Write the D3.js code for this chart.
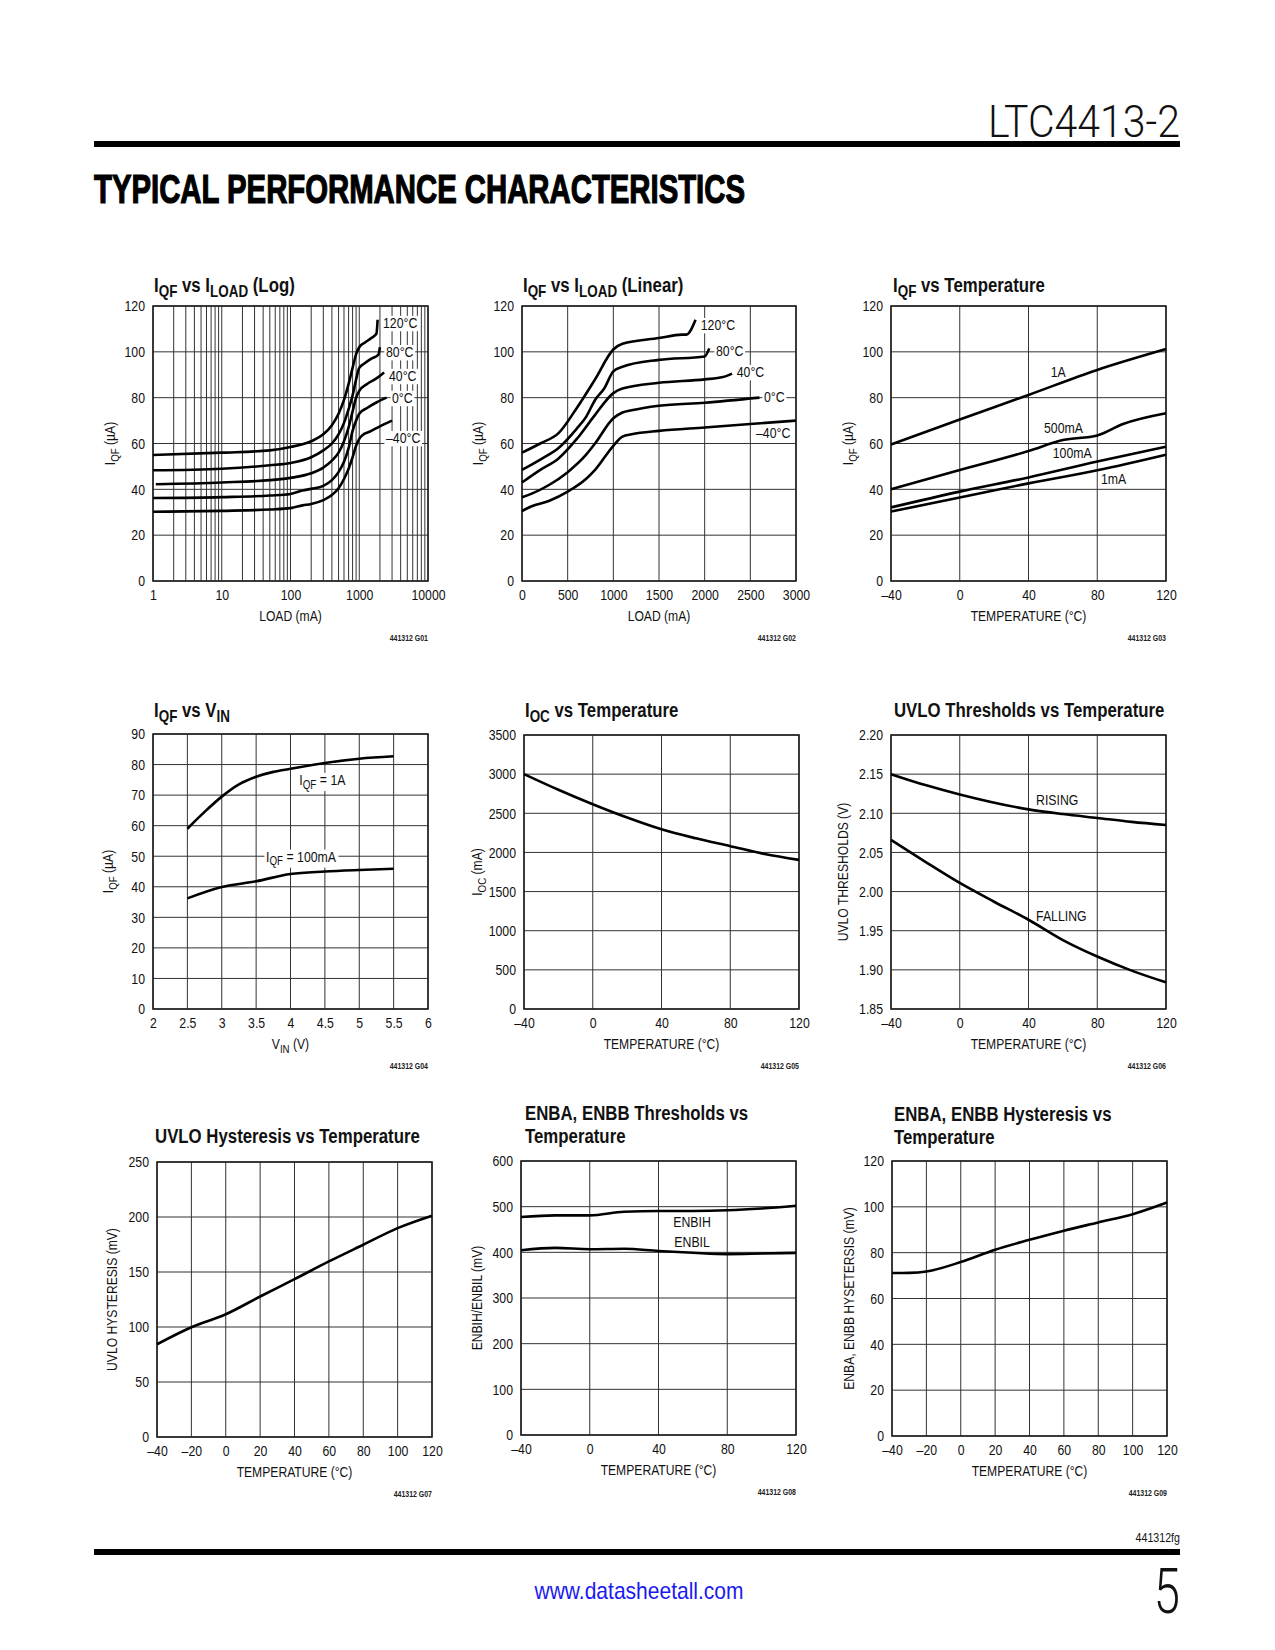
<!DOCTYPE html>
<html><head><meta charset="utf-8">
<script src="https://cdn.jsdelivr.net/npm/d3@7"></script>
<style>body{margin:0;background:#fff}</style>
</head><body>
<svg id="page" width="1275" height="1650" xmlns="http://www.w3.org/2000/svg"></svg>
<script>
// ---------------- DATA ----------------
// G01 IQF vs ILOAD (log) : [load mA, IQF uA]
const g1_120C = [[1,55],[10,56],[50,57],[100,58.5],[200,61],[300,64],[400,68],[500,73],[600,79],[700,86],[800,93],[900,99],[1000,102],[1200,104],[1500,106],[1780,108],[1850,114]];
const g1_80C  = [[1,48.3],[10,49],[50,50.5],[100,51.5],[200,54],[300,57],[400,60],[500,64],[600,69],[700,75],[800,81],[900,88],[1000,93],[1200,95],[1500,97],[1900,98.8],[2000,102]];
const g1_40C  = [[1.1,42.2],[10,43],[50,44],[100,45],[200,47],[300,49.5],[400,52.5],[500,56],[600,61],[700,67],[800,74],[900,80],[1000,83],[1300,86],[1800,88.5],[2300,91]];
const g1_0C   = [[1,36.2],[10,36.6],[50,37.3],[100,38],[150,39.5],[200,40.2],[300,41.5],[400,44],[500,47.5],[600,52],[700,58],[800,65.5],[900,70],[1000,73],[1300,75.5],[1800,78],[2500,80]];
const g1_m40C = [[1,30.2],[10,30.6],[50,31.2],[100,31.8],[150,33],[200,33.6],[300,35.3],[400,37.5],[500,40.5],[600,44.5],[700,49],[800,54],[900,59],[1000,62],[1100,63.5],[1500,65.5],[2000,67.5],[3000,70]];
const g1_xTicks = [1,10,100,1000,10000];
const g1_yTicks = [0,20,40,60,80,100,120];

// G02 IQF vs ILOAD (linear)
const g2_120C = [[0,56],[200,60],[400,64.5],[600,75.5],[800,88],[1000,101],[1100,103.5],[1500,106],[1750,107.5],[1800,107.5],[1900,114]];
const g2_80C  = [[0,48.5],[200,53],[400,58],[600,66.5],[700,71.5],[800,79],[900,84],[1000,91.5],[1100,93.5],[1500,96.5],[2000,98],[2050,101.5]];
const g2_40C  = [[0,43],[200,48.5],[400,53.5],[600,62],[800,72.5],[1000,82],[1100,84],[1500,86.5],[2000,88],[2200,89],[2300,90.5]];
const g2_0C   = [[0,36.5],[100,38],[300,42],[500,47.5],[700,55],[800,60],[1000,71],[1100,73.5],[1200,74.5],[1500,76.5],[2000,77.8],[2600,80]];
const g2_m40C = [[0,30.5],[100,32.5],[300,35],[500,39],[700,44.5],[800,48.5],[1000,59],[1100,63],[1200,64],[1500,65.5],[2000,67],[2500,68.5],[3000,70]];
const g2_xTicks = [0,500,1000,1500,2000,2500,3000];
const g2_yTicks = [0,20,40,60,80,100,120];

// G03 IQF vs Temperature
const g3_1A    = [[-40,59.6],[0,70.5],[40,81.2],[80,92.1],[120,101.2]];
const g3_500mA = [[-40,40],[0,48.4],[40,56.7],[60,61.5],[80,63.5],[95,68.5],[120,73.2]];
const g3_100mA = [[-40,32.1],[0,39],[40,45.2],[80,52.1],[120,58.6]];
const g3_1mA   = [[-40,30.3],[0,36.4],[40,42.6],[80,48.3],[120,55.1]];
const tempTicks40 = [-40,0,40,80,120];
const tempTicks20 = [-40,-20,0,20,40,60,80,100,120];

// G04 IQF vs VIN
const g4_1A    = [[2.5,59],[2.75,64.5],[3,69.5],[3.25,73.5],[3.5,76],[3.75,77.6],[4,78.6],[4.5,80.5],[5,81.9],[5.5,82.7]];
const g4_100mA = [[2.5,36.2],[3,39.9],[3.5,41.8],[4,44.2],[4.5,45],[5,45.5],[5.5,45.9]];
const g4_xTicks = [2,2.5,3,3.5,4,4.5,5,5.5,6];
const g4_yTicks = [0,10,20,30,40,50,60,70,80,90];

// G05 IOC vs Temperature
const g5_ioc = [[-40,3000],[-20,2800],[0,2615],[20,2445],[40,2295],[60,2180],[80,2080],[100,1980],[120,1905]];
const g5_yTicks = [0,500,1000,1500,2000,2500,3000,3500];

// G06 UVLO thresholds
const g6_rising  = [[-40,2.150],[-20,2.136],[0,2.124],[40,2.105],[60,2.099],[80,2.094],[100,2.089],[120,2.085]];
const g6_falling = [[-40,2.066],[-20,2.038],[0,2.011],[20,1.987],[40,1.964],[60,1.938],[80,1.917],[100,1.899],[120,1.884]];
const g6_yTicks = [1.85,1.90,1.95,2.00,2.05,2.10,2.15,2.20];

// G07 UVLO hysteresis
const g7_hyst = [[-40,84.3],[-20,99.8],[0,111.6],[20,127.7],[40,143.5],[60,159.6],[80,174.8],[100,189.9],[120,201.2]];
const g7_yTicks = [0,50,100,150,200,250];

// G08 ENB thresholds
const g8_enbih = [[-40,477.5],[-20,481],[0,481],[20,489],[40,490.6],[60,490.6],[80,492],[100,496],[120,502]];
const g8_enbil = [[-40,404.6],[-20,409.7],[0,406.8],[20,408],[40,403],[60,399],[80,396],[100,397.3],[120,398.8]];
const g8_yTicks = [0,100,200,300,400,500,600];

// G09 ENB hysteresis
const g9_hyst = [[-40,71.1],[-30,71.2],[-20,71.8],[0,75.9],[20,81.3],[40,85.6],[60,89.6],[80,93.2],[100,96.8],[120,101.9]];
const g9_yTicks = [0,20,40,60,80,100,120];

// ---------------- DRAW ----------------
const FONT = '"Liberation Sans",Arial,Helvetica,sans-serif';
const THIN = 'Roboto,"Liberation Sans",Arial,sans-serif';
const K = 0.82; // horizontal condensing (narrow face)
const svg = d3.select('#page').attr('font-family', FONT);
const tfmt = d => d < 0 ? '\u2013' + Math.abs(d) : String(d);

function condense(t, k = K) {
  const x = +t.attr('x') || 0;
  t.attr('x', x / k);
  const tr = t.attr('transform') || '';
  t.attr('transform', (tr + ' scale(' + k + ',1)').trim());
  return t;
}

function rich(sel, parts, size) {
  let sub = false;
  parts.forEach(([s, isSub]) => {
    let dy = 0;
    if (isSub && !sub) dy = size * 0.25;
    else if (!isSub && sub) dy = -size * 0.25;
    sub = !!isSub;
    sel.append('tspan').attr('dy', dy).attr('font-size', isSub ? size * 0.8 : size).text(s);
  });
  return sel;
}

const logGrid = [];
for (let d = 0; d < 4; d++) for (let k = 1; k <= 9; k++) logGrid.push(k * Math.pow(10, d));
logGrid.push(10000);

function drawChart(c) {
  const g = svg.append('g').attr('transform', `translate(${c.left},${c.top})`);
  const x = (c.xlog ? d3.scaleLog() : d3.scaleLinear()).domain(c.xDomain).range([0, c.w]);
  const y = d3.scaleLinear().domain(c.yDomain).range([c.h, 0]);

  g.append('g').selectAll('line').data(c.xGrid).join('line')
    .attr('x1', d => x(d)).attr('x2', d => x(d)).attr('y1', 0).attr('y2', c.h)
    .attr('stroke', '#333').attr('stroke-width', 1);
  g.append('g').selectAll('line').data(c.yTicks).join('line')
    .attr('x1', 0).attr('x2', c.w).attr('y1', d => y(d)).attr('y2', d => y(d))
    .attr('stroke', '#333').attr('stroke-width', 1);

  const ax = g.append('g').attr('transform', `translate(0,${c.h})`)
    .call(d3.axisBottom(x).tickValues(c.xTicks).tickFormat(c.xFmt || tfmt).tickSize(0).tickPadding(8));
  ax.select('.domain').remove();
  ax.attr('font-size', 15).attr('font-family', FONT);
  ax.selectAll('text').attr('fill', '#111').each(function () { condense(d3.select(this)); });
  const ay = g.append('g')
    .call(d3.axisLeft(y).tickValues(c.yTicks).tickFormat(c.yFmt || tfmt).tickSize(0).tickPadding(8));
  ay.select('.domain').remove();
  ay.attr('font-size', 15).attr('font-family', FONT);
  ay.selectAll('text').attr('fill', '#111').each(function () { condense(d3.select(this)); });

  const labNodes = (c.labels || []).map(L => {
    const t = g.append('text').attr('x', x(L.x)).attr('y', y(L.y)).attr('fill', '#111');
    rich(t, L.parts, 15);
    condense(t);
    if (c.labelBg) {
      const b = t.node().getBBox();
      g.append('rect').attr('transform', `scale(${K},1)`)
        .attr('x', b.x - 2).attr('y', b.y + 1).attr('width', b.width + 4).attr('height', b.height - 1)
        .attr('fill', '#fff');
    }
    return t;
  });
  g.append('rect').attr('width', c.w).attr('height', c.h).attr('fill', 'none')
    .attr('stroke', '#222').attr('stroke-width', 1.6);

  const line = d3.line().x(d => x(d[0])).y(d => y(d[1])).curve(d3.curveMonotoneX);
  c.series.forEach(s => {
    g.append('path').datum(s).attr('d', line).attr('fill', 'none')
      .attr('stroke', '#000').attr('stroke-width', 2.6).attr('stroke-linejoin', 'round');
  });
  labNodes.forEach(t => t.raise());

  c.title.forEach((parts, i) => {
    const t = svg.append('text').attr('x', c.titleX).attr('y', c.titleY - (c.title.length - 1 - i) * 22.5)
      .attr('font-weight', 'bold').attr('fill', '#111');
    rich(t, parts, 20.5);
    condense(t);
  });
  condense(rich(g.append('text').attr('x', c.w / 2).attr('y', c.h + 40).attr('text-anchor', 'middle').attr('fill', '#111'), c.xTitle, 14.8));
  condense(rich(g.append('text').attr('transform', `translate(${c.yTitleX},${c.h / 2}) rotate(-90)`)
    .attr('text-anchor', 'middle').attr('fill', '#111'), c.yTitle, 14.8));
  condense(g.append('text').attr('x', c.w).attr('y', c.h + 60).attr('text-anchor', 'end')
    .attr('font-size', 8.5).attr('font-weight', 'bold').attr('fill', '#222').text(c.note));
}

const iqfTitle = [['I', 0], ['QF', 1], [' (\u00b5A)', 0]];
const tempTitle = [['TEMPERATURE (\u00b0C)', 0]];

const charts = [
  { left: 153, top: 306, w: 275, h: 275, xlog: true, xDomain: [1, 10000], yDomain: [0, 120],
    xGrid: logGrid, xTicks: g1_xTicks, yTicks: g1_yTicks, labelBg: true,
    series: [g1_120C, g1_80C, g1_40C, g1_0C, g1_m40C],
    labels: [{x: 2215, y: 110.4, parts: [['120\u00b0C', 0]]}, {x: 2449, y: 97.7, parts: [['80\u00b0C', 0]]},
             {x: 2710, y: 87.3, parts: [['40\u00b0C', 0]]}, {x: 2994, y: 77.7, parts: [['0\u00b0C', 0]]},
             {x: 2449, y: 60.2, parts: [['\u201340\u00b0C', 0]]}],
    title: [[['I', 0], ['QF', 1], [' vs I', 0], ['LOAD', 1], [' (Log)', 0]]], titleX: 154, titleY: 292,
    xTitle: [['LOAD (mA)', 0]], yTitle: iqfTitle, yTitleX: -38, note: '441312 G01' },
  { left: 522, top: 306, w: 274, h: 275, xDomain: [0, 3000], yDomain: [0, 120],
    xGrid: g2_xTicks, xTicks: g2_xTicks, yTicks: g2_yTicks, labelBg: true,
    series: [g2_120C, g2_80C, g2_40C, g2_0C, g2_m40C],
    labels: [{x: 1957, y: 109.5, parts: [['120\u00b0C', 0]]}, {x: 2124, y: 98.3, parts: [['80\u00b0C', 0]]},
             {x: 2351, y: 89, parts: [['40\u00b0C', 0]]}, {x: 2650, y: 78.2, parts: [['0\u00b0C', 0]]},
             {x: 2562, y: 62.4, parts: [['\u201340\u00b0C', 0]]}],
    title: [[['I', 0], ['QF', 1], [' vs I', 0], ['LOAD', 1], [' (Linear)', 0]]], titleX: 523, titleY: 292,
    xTitle: [['LOAD (mA)', 0]], yTitle: iqfTitle, yTitleX: -39, note: '441312 G02' },
  { left: 891, top: 306, w: 275, h: 275, xDomain: [-40, 120], yDomain: [0, 120],
    xGrid: tempTicks40, xTicks: tempTicks40, yTicks: g1_yTicks, labelBg: false,
    series: [g3_1A, g3_500mA, g3_100mA, g3_1mA],
    labels: [{x: 52.9, y: 89.1, parts: [['1A', 0]]}, {x: 49, y: 64.4, parts: [['500mA', 0]]},
             {x: 54.1, y: 53.5, parts: [['100mA', 0]]}, {x: 82.2, y: 42.2, parts: [['1mA', 0]]}],
    title: [[['I', 0], ['QF', 1], [' vs Temperature', 0]]], titleX: 893, titleY: 292,
    xTitle: tempTitle, yTitle: iqfTitle, yTitleX: -38, note: '441312 G03' },
  { left: 153, top: 734, w: 275, h: 275, xDomain: [2, 6], yDomain: [0, 90],
    xGrid: g4_xTicks, xTicks: g4_xTicks, yTicks: g4_yTicks, labelBg: true, xFmt: d => String(d),
    series: [g4_1A, g4_100mA],
    labels: [{x: 4.128, y: 73.3, parts: [['I', 0], ['QF', 1], [' = 1A', 0]]},
             {x: 3.644, y: 48.2, parts: [['I', 0], ['QF', 1], [' = 100mA', 0]]}],
    title: [[['I', 0], ['QF', 1], [' vs V', 0], ['IN', 1]]], titleX: 154, titleY: 717,
    xTitle: [['V', 0], ['IN', 1], [' (V)', 0]], yTitle: iqfTitle, yTitleX: -40, note: '441312 G04' },
  { left: 524, top: 735, w: 275, h: 274, xDomain: [-40, 120], yDomain: [0, 3500],
    xGrid: tempTicks40, xTicks: tempTicks40, yTicks: g5_yTicks, labelBg: false,
    series: [g5_ioc], labels: [],
    title: [[['I', 0], ['OC', 1], [' vs Temperature', 0]]], titleX: 525, titleY: 717,
    xTitle: tempTitle, yTitle: [['I', 0], ['OC', 1], [' (mA)', 0]], yTitleX: -42, note: '441312 G05' },
  { left: 891, top: 735, w: 275, h: 274, xDomain: [-40, 120], yDomain: [1.85, 2.20],
    xGrid: tempTicks40, xTicks: tempTicks40, yTicks: g6_yTicks, labelBg: false, yFmt: d3.format('.2f'),
    series: [g6_rising, g6_falling],
    labels: [{x: 44.4, y: 2.110, parts: [['RISING', 0]]}, {x: 44.4, y: 1.963, parts: [['FALLING', 0]]}],
    title: [[['UVLO Thresholds vs Temperature', 0]]], titleX: 894, titleY: 717,
    xTitle: tempTitle, yTitle: [['UVLO THRESHOLDS (V)', 0]], yTitleX: -43, note: '441312 G06' },
  { left: 157, top: 1162, w: 275, h: 275, xDomain: [-40, 120], yDomain: [0, 250],
    xGrid: tempTicks20, xTicks: tempTicks20, yTicks: g7_yTicks, labelBg: false,
    series: [g7_hyst], labels: [],
    title: [[['UVLO Hysteresis vs Temperature', 0]]], titleX: 155, titleY: 1143,
    xTitle: tempTitle, yTitle: [['UVLO HYSTERESIS (mV)', 0]], yTitleX: -40, note: '441312 G07' },
  { left: 521, top: 1161, w: 275, h: 274, xDomain: [-40, 120], yDomain: [0, 600],
    xGrid: tempTicks40, xTicks: tempTicks40, yTicks: g8_yTicks, labelBg: false,
    series: [g8_enbih, g8_enbil],
    labels: [{x: 48.6, y: 456, parts: [['ENBIH', 0]]}, {x: 49.2, y: 412, parts: [['ENBIL', 0]]}],
    title: [[['ENBA, ENBB Thresholds vs', 0]], [['Temperature', 0]]], titleX: 525, titleY: 1143,
    xTitle: tempTitle, yTitle: [['ENBIH/ENBIL (mV)', 0]], yTitleX: -39, note: '441312 G08' },
  { left: 892, top: 1161, w: 275, h: 275, xDomain: [-40, 120], yDomain: [0, 120],
    xGrid: tempTicks20, xTicks: tempTicks20, yTicks: g9_yTicks, labelBg: false,
    series: [g9_hyst], labels: [],
    title: [[['ENBA, ENBB Hysteresis vs', 0]], [['Temperature', 0]]], titleX: 894, titleY: 1144,
    xTitle: tempTitle, yTitle: [['ENBA, ENBB HYSETERSIS (mV)', 0]], yTitleX: -38, note: '441312 G09' }
];
charts.forEach(drawChart);

// ---------------- PAGE FRAME ----------------
svg.append('text').attr('x', 1180).attr('y', 137).attr('text-anchor', 'end').attr('font-size', 44)
  .attr('font-family', THIN).attr('font-weight', 300)
  .attr('textLength', 192).attr('lengthAdjust', 'spacingAndGlyphs').attr('fill', '#111').text('LTC4413-2');
svg.append('rect').attr('x', 94).attr('y', 141).attr('width', 1086).attr('height', 6).attr('fill', '#000');
svg.append('text').attr('x', 94).attr('y', 203).attr('font-size', 40).attr('font-weight', 'bold')
  .attr('stroke', '#000').attr('stroke-width', 1.2)
  .attr('textLength', 651).attr('lengthAdjust', 'spacingAndGlyphs').attr('fill', '#000')
  .text('TYPICAL PERFORMANCE CHARACTERISTICS');

condense(svg.append('text').attr('x', 1180).attr('y', 1542).attr('text-anchor', 'end').attr('font-size', 13)
  .attr('fill', '#111').text('441312fg'));
svg.append('rect').attr('x', 94).attr('y', 1549).attr('width', 1086).attr('height', 6).attr('fill', '#000');
svg.append('text').attr('x', 639).attr('y', 1599).attr('text-anchor', 'middle').attr('font-size', 24)
  .attr('textLength', 209).attr('lengthAdjust', 'spacingAndGlyphs').attr('fill', '#1a1aee').text('www.datasheetall.com');
condense(svg.append('text').attr('x', 1180).attr('y', 1613).attr('text-anchor', 'end').attr('font-size', 63)
  .attr('font-family', THIN).attr('font-weight', 300)
  .attr('fill', '#111').text('5'), 0.75);
</script>
</body></html>
